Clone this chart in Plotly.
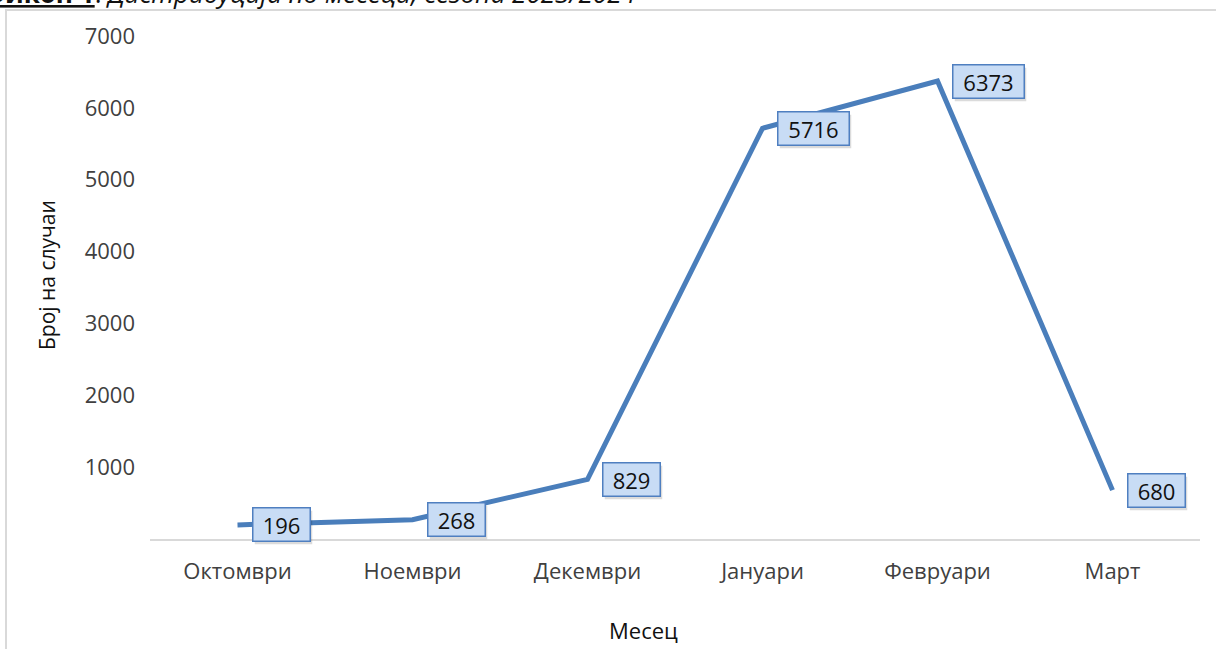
import plotly.graph_objects as go

months = ["Октомври", "Ноември", "Декември", "Јануари", "Февруари", "Март"]
cases = [196, 268, 829, 5716, 6373, 680]
y_ticks = [1000, 2000, 3000, 4000, 5000, 6000, 7000]

W, H = 1216, 649
L, R, T, B = 150, 16, 36, 110
pw = W - L - R
ph = H - T - B

def px(xp):
    return (xp - L) / pw

def py(yp):
    return (H - B - yp) / ph

font = "Open Sans"
line_col = "#4a7ebb"

fig = go.Figure()
fig.add_trace(go.Scatter(
    x=months, y=cases, mode="lines",
    line=dict(color=line_col, width=5),
    hoverinfo="skip", showlegend=False,
))

annotations = []
for m, v in zip(months, cases):
    txt = str(v)
    w = 12 + 14 * len(txt)
    # shadow
    annotations.append(dict(
        x=m, y=v, xref="x", yref="y", text=txt, showarrow=False,
        xanchor="left", yanchor="middle", xshift=16, yshift=-3,
        width=w, height=30, borderpad=1, bgcolor="rgba(0,0,0,0.14)",
        bordercolor="rgba(0,0,0,0)", borderwidth=1.5,
        font=dict(family=font, size=22, color="rgba(0,0,0,0)"),
    ))
    annotations.append(dict(
        x=m, y=v, xref="x", yref="y", text=txt, showarrow=False,
        xanchor="left", yanchor="middle", xshift=14, yshift=0,
        width=w, height=30, borderpad=1, bgcolor="#c8dcf5",
        bordercolor="#4f7fc0", borderwidth=1.5,
        font=dict(family=font, size=22, color="#111111"),
    ))

annotations.append(dict(
    x=px(47), y=py(275), xref="paper", yref="paper", text="Број на случаи",
    showarrow=False, textangle=-90, xanchor="center", yanchor="middle",
    font=dict(family=font, size=21, color="#111111"),
))
annotations.append(dict(
    x=px(643), y=py(630), xref="paper", yref="paper", text="Месец",
    showarrow=False, xanchor="center", yanchor="middle",
    font=dict(family=font, size=22, color="#111111"),
))
annotations.append(dict(
    x=px(638), y=py(13), xref="paper", yref="paper",
    text="<b><u>Графикон 1</u></b>: <i>Дистрибуција по месеци, сезона 2023/2024</i>",
    showarrow=False, xanchor="right", yanchor="bottom",
    font=dict(family=font, size=26, color="#111111"),
))

fig.update_layout(
    width=W, height=H,
    margin=dict(l=L, r=R, t=T, b=B),
    paper_bgcolor="white", plot_bgcolor="white",
    annotations=annotations,
    shapes=[dict(
        type="rect", xref="paper", yref="paper",
        x0=px(6), x1=px(1240), y0=py(670), y1=py(10),
        line=dict(color="#d9d9d9", width=2), fillcolor="rgba(0,0,0,0)",
        layer="below",
    )],
    xaxis=dict(
        type="category", range=[-0.5, 5.5], showgrid=False, zeroline=False,
        showline=True, linecolor="#d9d9d9", linewidth=2,
        ticks="", ticklabelstandoff=12,
        tickfont=dict(family=font, size=22, color="#404040"),
    ),
    yaxis=dict(
        range=[0, 7000], tickvals=y_ticks, showgrid=False, zeroline=False,
        showline=False, ticks="", ticklabelstandoff=14,
        tickfont=dict(family=font, size=22, color="#404040"),
    ),
)

fig.write_html(
    "out.html",
    config={"displayModeBar": False},
    post_script="document.body.style.margin='0';document.body.style.overflow='hidden';",
)
